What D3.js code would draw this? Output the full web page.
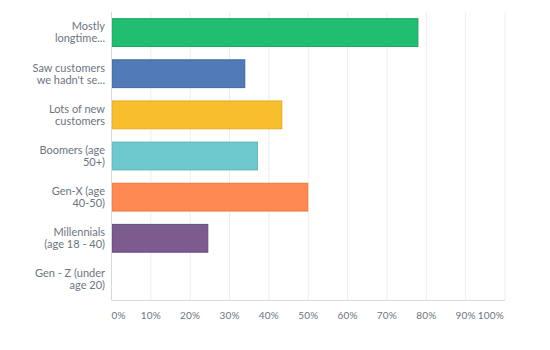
<!DOCTYPE html>
<html>
<head>
<meta charset="utf-8">
<script src="https://cdn.jsdelivr.net/npm/d3@7"></script>
<style>
  html, body { margin: 0; padding: 0; background: #fff; }
  svg { display: block; font-family: Lato, "Open Sans", sans-serif; }
</style>
</head>
<body>
<svg id="chart" width="550" height="350"></svg>
<script>
// Survey answers (two-line labels) and share of respondents, in percent
const categories = [
  ["Mostly", "longtime..."],
  ["Saw customers", "we hadn't se..."],
  ["Lots of new", "customers"],
  ["Boomers (age", "50+)"],
  ["Gen-X (age", "40-50)"],
  ["Millennials", "(age 18 - 40)"],
  ["Gen - Z (under", "age 20)"]
];
const values = [78, 34, 43.4, 37.2, 50, 24.6, 0];
const fills = ["#21bd71", "#517bb6", "#f8be2d", "#6ec9cc", "#fe8a51", "#7c5b8e", "#999999"];
const strokes = ["#1aa862", "#3f669f", "#e8aa1c", "#5ab6ba", "#ee7940", "#654879", "#888888"];
const tickValues = [0, 10, 20, 30, 40, 50, 60, 70, 80, 90, 100];

const svg = d3.select("#chart");
const margin = { top: 12, right: 45, bottom: 50, left: 111.5 };
const W = 550, H = 350;
const x0 = margin.left, x1 = W - margin.right, y0 = margin.top, y1 = H - margin.bottom;

const x = d3.scaleLinear().domain([0, 100]).range([x0, x1]);
const y = d3.scaleBand().domain(d3.range(categories.length)).range([y0, y1])
  .paddingInner(0.3).paddingOuter(0.15);

// vertical gridlines
svg.append("g").selectAll("line").data(tickValues.slice(1)).join("line")
  .attr("x1", d => x(d)).attr("x2", d => x(d))
  .attr("y1", y0).attr("y2", y1)
  .attr("stroke", "#ededed").attr("stroke-width", 1);

// bars
svg.append("g").selectAll("rect").data(values).join("rect")
  .attr("x", x(0) + 0.5)
  .attr("y", (d, i) => y(i) + 0.5)
  .attr("width", d => Math.max(0, x(d) - x(0) - 1))
  .attr("height", y.bandwidth() - 1)
  .attr("fill", (d, i) => fills[i])
  .attr("stroke", (d, i) => strokes[i])
  .attr("stroke-width", 1)
  .attr("display", d => d > 0 ? null : "none");

// axis lines
svg.append("line").attr("x1", x0).attr("x2", x0).attr("y1", y0).attr("y2", y1)
  .attr("stroke", "#d6d9dc");
svg.append("line").attr("x1", x0).attr("x2", x1).attr("y1", y1 + 0.5).attr("y2", y1 + 0.5)
  .attr("stroke", "#d6d9dc");

// category labels, one text element per line
const rows = [];
categories.forEach((lines, i) => {
  lines.forEach((t, j) => rows.push({ i, j, n: lines.length, t }));
});
svg.append("g").selectAll("text").data(rows).join("text")
  .attr("x", 105)
  .attr("y", d => y(d.i) + y.bandwidth() / 2 + (d.j - (d.n - 1) / 2) * 12 + 3.8)
  .attr("text-anchor", "end")
  .attr("fill", "#6b7580")
  .attr("font-size", 11)
  .text(d => d.t);

// x tick labels; the last one is right-aligned so it stays inside the plot
svg.append("g").selectAll("text").data(tickValues).join("text")
  .attr("x", d => d === 100 ? x(d) - 1 : x(d))
  .attr("y", y1 + 19)
  .attr("text-anchor", d => d === 100 ? "end" : (d === 0 ? "start" : "middle"))
  .attr("fill", "#6b7580")
  .attr("font-size", 10)
  .attr("letter-spacing", 0.2)
  .text(d => d + "%");
</script>
</body>
</html>
